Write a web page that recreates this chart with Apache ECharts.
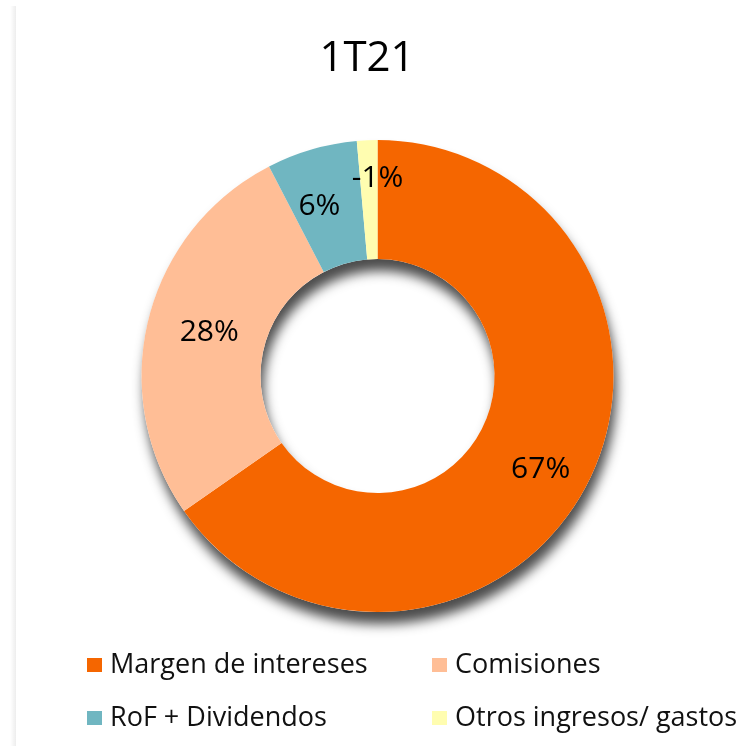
<!DOCTYPE html>
<html>
<head>
<meta charset="utf-8">
<style>
  html, body { margin: 0; padding: 0; background: #ffffff; }
  #chart { width: 740px; height: 746px; }
</style>
<script src="https://cdn.jsdelivr.net/npm/echarts@6/dist/echarts.min.js"></script>
</head>
<body>
<div id="chart"></div>
<script>
// ---- data ----
var titleText = '1T21';
var categories = ['Margen de intereses', 'Comisiones', 'RoF + Dividendos', 'Otros ingresos/ gastos'];
var sliceValues = [65.3, 27.1, 6.2, 1.4];           // share of the ring
var sliceLabels = ['67%', '28%', '6%', '-1%'];      // labels printed on the slices
var colors = ['#F56600', '#FFBE96', '#70B6C1', '#FFFDB0'];

// ---- style tweaks for label placement (per slice) ----
var labelOffsets = [[4, 10], [6, -1], [-8, 3], [8, -18]];

var FONT = '"Open Sans", "Noto Sans", sans-serif';
var CENTER = [377.5, 376];
var RADIUS = [117, 236];

var total = sliceValues.reduce(function (a, b) { return a + b; }, 0);

var chart = echarts.init(document.getElementById('chart'), null, { renderer: 'canvas' });

var pieData = categories.map(function (name, i) {
  return {
    name: name,
    value: sliceValues[i],
    itemStyle: { color: colors[i] },
    label: { offset: labelOffsets[i] }
  };
});

var option = {
  backgroundColor: '#ffffff',
  animation: false,
  title: {
    text: titleText,
    left: 362,
    textAlign: 'center',
    top: 33,
    textStyle: { fontFamily: FONT, fontSize: 42, fontWeight: 'normal', color: '#000000' }
  },
  legend: [
    {
      orient: 'vertical',
      left: 87,
      top: 650,
      padding: 0,
      itemGap: 23,
      itemWidth: 15,
      itemHeight: 14,
      icon: 'rect',
      data: [categories[0], categories[2]],
      textStyle: { fontFamily: FONT, fontSize: 27, color: '#111111', lineHeight: 30, padding: [0, 0, 0, 3] }
    },
    {
      orient: 'vertical',
      left: 432,
      top: 650,
      padding: 0,
      itemGap: 23,
      itemWidth: 15,
      itemHeight: 14,
      icon: 'rect',
      data: [categories[1], categories[3]],
      textStyle: { fontFamily: FONT, fontSize: 27, color: '#111111', lineHeight: 30, padding: [0, 0, 0, 3] }
    }
  ],
  graphic: [
    {
      type: 'rect',
      left: 10,
      top: 6,
      silent: true,
      shape: { width: 6, height: 740 },
      style: {
        fill: new echarts.graphic.LinearGradient(0, 0, 1, 0, [
          { offset: 0, color: 'rgba(0,0,0,0)' },
          { offset: 1, color: 'rgba(0,0,0,0.07)' }
        ])
      }
    }
  ],
  series: [
    {
      // shadow-casting backing ring
      type: 'pie',
      silent: true,
      z: 1,
      center: CENTER,
      radius: RADIUS,
      label: { show: false },
      labelLine: { show: false },
      emphasis: { disabled: true },
      itemStyle: {
        color: '#ffffff',
        borderWidth: 0,
        shadowColor: 'rgba(0,0,0,0.7)',
        shadowBlur: 12,
        shadowOffsetX: 3,
        shadowOffsetY: 12
      },
      data: [{ name: '__backing', value: total }]
    },
    {
      type: 'pie',
      z: 2,
      center: CENTER,
      radius: RADIUS,
      startAngle: 90,
      clockwise: true,
      avoidLabelOverlap: false,
      emphasis: { disabled: true },
      itemStyle: { borderWidth: 0 },
      label: {
        show: true,
        position: 'inside',
        fontFamily: FONT,
        fontSize: 30,
        color: '#000000',
        formatter: function (p) { return sliceLabels[p.dataIndex]; }
      },
      labelLine: { show: false },
      data: pieData
    }
  ]
};

chart.setOption(option);
</script>
</body>
</html>
